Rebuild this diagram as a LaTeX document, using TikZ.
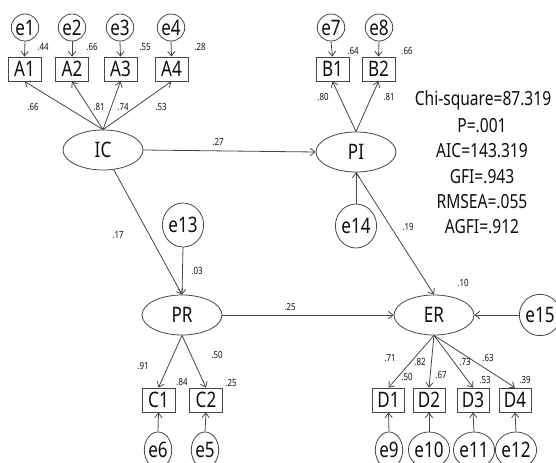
\documentclass[tikz,border=0pt]{standalone}
\usepackage{fontspec}
\setmainfont{Noto Sans}[FakeStretch=0.8]
\usetikzlibrary{arrows.meta,shapes.geometric}
\definecolor{ln}{RGB}{70,70,70}
\definecolor{tx}{RGB}{15,15,15}
\begin{document}
\begin{tikzpicture}[x=0.75pt,y=-0.75pt,
  every node/.style={text=tx},
  big/.style={font=\fontsize{14.6}{17}\selectfont},
  nd/.style={font=\fontsize{16}{18}\selectfont},
  lat/.style={ellipse,draw=ln,line width=0.6pt,minimum width=60pt,minimum height=30pt,inner sep=0pt,nd},
  obs/.style={rectangle,draw=ln,line width=0.6pt,minimum width=24.75pt,minimum height=18pt,inner sep=0pt,nd},
  errs/.style={ellipse,draw=ln,line width=0.6pt,minimum width=18pt,minimum height=20.25pt,inner sep=0pt,nd},
  errm/.style={ellipse,draw=ln,line width=0.6pt,minimum width=25pt,minimum height=33pt,inner sep=0pt,nd},
  errb/.style={ellipse,draw=ln,line width=0.6pt,minimum width=19pt,minimum height=27pt,inner sep=0pt,nd},
  lbl/.style={inner sep=0pt,font=\fontsize{7.4}{8}\selectfont},
  stat/.style={inner sep=0pt,big},
  arr/.style={draw=ln,line width=0.6pt,-{Straight Barb[length=3.5pt,width=5.5pt]}}
]
\useasboundingbox (0,0) rectangle (556,463);
\clip (0,0) rectangle (556,463);
% top error terms and indicators
\node[errs] (e1) at (25,27.5) {e1};
\node[errs] (e2) at (72,27.5) {e2};
\node[errs] (e3) at (120,27.5) {e3};
\node[errs] (e4) at (171,27.5) {e4};
\node[obs] (A1) at (24.5,69) {A1};
\node[obs] (A2) at (72,69) {A2};
\node[obs] (A3) at (120.5,69) {A3};
\node[obs] (A4) at (171.5,69) {A4};
\node[errs] (e7) at (331,27.5) {e7};
\node[errs] (e8) at (379,27.5) {e8};
\node[obs] (B1) at (332.5,69) {B1};
\node[obs] (B2) at (378.5,69) {B2};
% latent
\node[lat] (IC) at (103,150) {IC};
\node[lat] (PI) at (356,152) {PI};
\node[lat] (PR) at (182,315) {PR};
\node[lat] (ER) at (434,315) {ER};
% disturbances
\node[errm] (e13) at (183,225) {e13};
\node[errm] (e14) at (356,226) {e14};
\node[errm,minimum width=22pt,minimum height=31pt] (e15) at (540,315) {e15};
% bottom indicators
\node[obs] (C1) at (158.5,400) {C1};
\node[obs] (C2) at (206,400) {C2};
\node[obs,minimum width=24pt] (D1) at (388.5,400) {D1};
\node[obs,minimum width=24pt] (D2) at (429,400) {D2};
\node[obs,minimum width=24pt] (D3) at (473,400) {D3};
\node[obs,minimum width=24pt] (D4) at (515,400) {D4};
\node[errb] (e6) at (158,450) {e6};
\node[errb] (e5) at (205,450) {e5};
\node[errb] (e9) at (389,450) {e9};
\node[errb,minimum width=20pt] (e10) at (429,450) {e10};
\node[errb,minimum width=20pt] (e11) at (474,450) {e11};
\node[errb,minimum width=20pt] (e12) at (516,450) {e12};
% arrows
\foreach \e/\a in {e1/A1,e2/A2,e3/A3,e4/A4,e7/B1,e8/B2}{\draw[arr] (\e.south) -- (\a.north);}
\foreach \a in {A1,A2,A3,A4}{\draw[arr] (IC.north) -- (\a.south);}
\foreach \a in {B1,B2}{\draw[arr] (PI.north) -- (\a.south);}
\draw[arr] (IC.east) -- (PI.west);
\draw[arr] (IC) -- (PR.north);
\draw[arr] (e13.south) -- (PR.north);
\draw[arr] (e14.north) -- (PI.south);
\draw[arr] (PI.south) -- (ER.north);
\draw[arr] (PR.east) -- (ER.west);
\draw[arr] (e15.west) -- (ER.east);
\foreach \c in {C1,C2}{\draw[arr] (PR.south) -- (\c.north);}
\foreach \d in {D1,D2,D3,D4}{\draw[arr] (ER.south) -- (\d.north);}
\foreach \e/\c in {e6/C1,e5/C2,e9/D1,e10/D2,e11/D3,e12/D4}{\draw[arr] (\e.north) -- (\c.south);}
% coefficient labels
\node[lbl] (l1) at (43,47) {.44};
\node[lbl] (l2) at (92,47) {.66};
\node[lbl] (l3) at (145,47) {.55};
\node[lbl] (l4) at (200,47) {.28};
\node[lbl] (l5) at (33,107) {.66};
\node[lbl] (l6) at (99,107) {.81};
\node[lbl] (l7) at (123,107) {.74};
\node[lbl] (l8) at (161,107) {.53};
\node[lbl] (l9) at (218,142) {.27};
\node[lbl] (l10) at (353,51) {.64};
\node[lbl] (l11) at (407,51) {.66};
\node[lbl] (l12) at (323,97) {.80};
\node[lbl] (l13) at (389,97) {.81};
\node[lbl] (l14) at (408,227) {.19};
\node[lbl] (l15) at (118,235) {.17};
\node[lbl] (l16) at (197,271) {.03};
\node[lbl] (l17) at (290,307) {.25};
\node[lbl] (l18) at (143,366) {.91};
\node[lbl] (l19) at (217,355) {.50};
\node[lbl] (l20) at (182,382) {.84};
\node[lbl] (l21) at (231,383) {.25};
\node[lbl] (l22) at (463,283) {.10};
\node[lbl] (l23) at (390,358) {.71};
\node[lbl] (l24) at (420,362) {.82};
\node[lbl] (l25) at (465,362) {.73};
\node[lbl] (l26) at (488,358) {.63};
\node[lbl] (l27) at (407,377) {.50};
\node[lbl] (l28) at (441,375) {.67};
\node[lbl] (l29) at (485,380) {.53};
\node[lbl] (l30) at (525,380) {.39};
% fit statistics
\node[stat] (s1) at (483,100) {Chi-square=87.319};
\node[stat] (s2) at (482,125.4) {P=.001};
\node[stat] (s3) at (482,150.8) {AIC=143.319};
\node[stat] (s4) at (482,176.2) {GFI=.943};
\node[stat] (s5) at (482,201.6) {RMSEA=.055};
\node[stat] (s6) at (482,227) {AGFI=.912};
\end{tikzpicture}
\end{document}
